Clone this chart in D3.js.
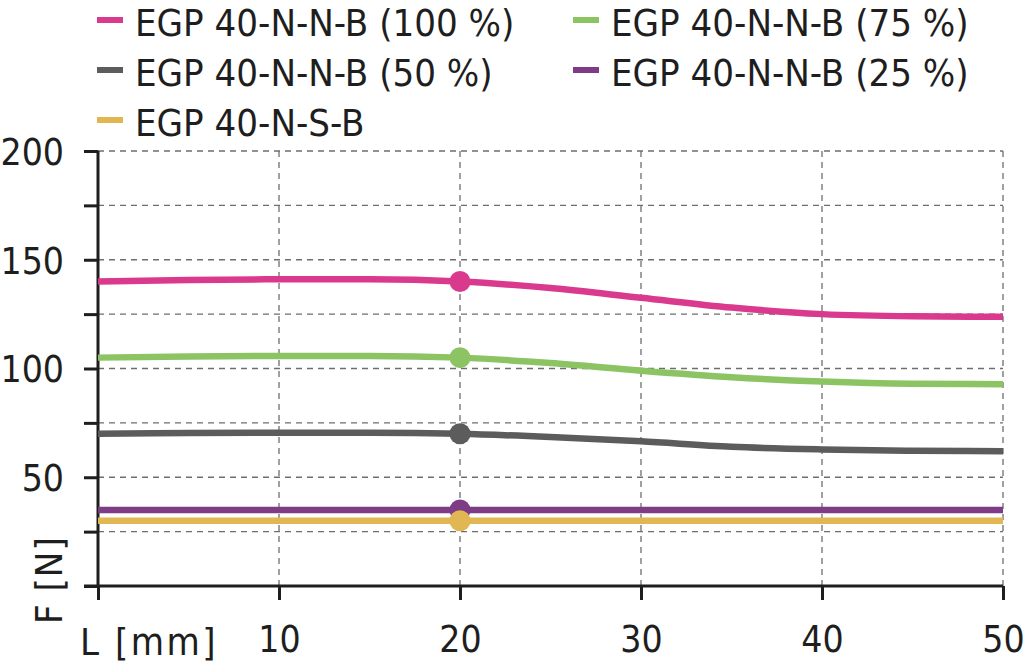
<!DOCTYPE html>
<html>
<head>
<meta charset="utf-8">
<script src="https://cdn.jsdelivr.net/npm/d3@7/dist/d3.min.js"></script>
<style>
  html, body { margin: 0; padding: 0; background: #fff; }
  svg { display: block; }
  text { font-family: "DejaVu Sans Condensed", "DejaVu Sans", sans-serif; fill: #1e1e1e; }
</style>
</head>
<body>
<svg id="chart" width="1024" height="664"></svg>
<script>
// ---- data ----
const xValues = [0, 5, 10, 15, 20, 25, 30, 35, 40, 45, 50];
const seriesNames = [
  "EGP 40-N-N-B (100 %)",
  "EGP 40-N-N-B (75 %)",
  "EGP 40-N-N-B (50 %)",
  "EGP 40-N-N-B (25 %)",
  "EGP 40-N-S-B"
];
const seriesColors = ["#d93a8e", "#8cc463", "#5c5c5c", "#7e3b86", "#e0b752"];
const values100 = [140, 140.7, 141, 141, 140, 137, 132.5, 128, 125, 124, 123.8];
const values75  = [105, 105.5, 105.8, 105.8, 105, 102.5, 99, 96, 94, 93, 92.8];
const values50  = [70, 70.3, 70.5, 70.5, 70, 68.5, 66.5, 64, 62.8, 62.2, 62];
const values25  = [35, 35, 35, 35, 35, 35, 35, 35, 35, 35, 35];
const valuesNSB = [30, 30, 30, 30, 30, 30, 30, 30, 30, 30, 30];
const seriesValues = [values100, values75, values50, values25, valuesNSB];
const markerX = 20;
const xTicks = [0, 10, 20, 30, 40, 50];
const xTickLabels = ["", "10", "20", "30", "40", "50"];
const yTicks = [0, 25, 50, 75, 100, 125, 150, 175, 200];
const yTickLabels = ["", "", "50", "", "100", "", "150", "", "200"];
const xTitle = "L [mm]";
const yTitle = "F [N]";

// ---- layout ----
const svg = d3.select("#chart");
const x = d3.scaleLinear().domain([0, 50]).range([98, 1003]);
const y = d3.scaleLinear().domain([0, 200]).range([586, 151]);

// grid
const grid = svg.append("g");
grid.selectAll("line.h").data(yTicks.filter(d => d > 0)).join("line")
  .attr("x1", x(0)).attr("x2", x(50))
  .attr("y1", d => y(d)).attr("y2", d => y(d))
  .attr("stroke", "#6e6e6e").attr("stroke-width", 1.3).attr("stroke-dasharray", "6,5");
grid.selectAll("line.v").data(xTicks.filter(d => d > 0)).join("line")
  .attr("x1", d => x(d)).attr("x2", d => x(d))
  .attr("y1", y(0)).attr("y2", y(200))
  .attr("stroke", "#6e6e6e").attr("stroke-width", 1.3).attr("stroke-dasharray", "6,5");

// axes
const yAxis = d3.axisLeft(y).tickValues(yTicks).tickSize(14)
  .tickFormat((d, i) => yTickLabels[i]).tickPadding(20);
const gy = svg.append("g").attr("transform", `translate(${x(0)},0)`).call(yAxis);
gy.select(".domain").attr("stroke", "#1e1e1e").attr("stroke-width", 3)
  .attr("d", `M0,${y(200)}V${y(0)}`);
gy.selectAll(".tick line").attr("stroke", "#1e1e1e").attr("stroke-width", 3);
gy.selectAll(".tick text").attr("font-size", 37)
  .attr("font-family", "DejaVu Sans Condensed, DejaVu Sans, sans-serif").attr("fill", "#1e1e1e")
  .attr("dy", "0.36em");

const xAxis = d3.axisBottom(x).tickValues(xTicks).tickSize(14)
  .tickFormat((d, i) => xTickLabels[i]).tickPadding(26);
const gx = svg.append("g").attr("transform", `translate(0,${y(0)})`).call(xAxis);
gx.select(".domain").attr("stroke", "#1e1e1e").attr("stroke-width", 3)
  .attr("d", `M${x(0) - 14},0H${x(50)}`);
gx.selectAll(".tick line").attr("stroke", "#1e1e1e").attr("stroke-width", 3);
gx.selectAll(".tick text").attr("font-size", 37)
  .attr("font-family", "DejaVu Sans Condensed, DejaVu Sans, sans-serif").attr("fill", "#1e1e1e")
  .attr("dy", "0.71em");

// axis titles
svg.append("text").attr("x", 80).attr("y", 655).attr("font-size", 38)
  .attr("letter-spacing", 2.5).text(xTitle);
svg.append("text").attr("transform", "translate(62,624) rotate(-90)")
  .attr("font-size", 38).attr("letter-spacing", 1).text(yTitle);

// lines
const line = d3.line().x((d, i) => x(xValues[i])).y(d => y(d)).curve(d3.curveMonotoneX);
const lines = svg.append("g");
seriesValues.forEach((vals, k) => {
  lines.append("path").datum(vals)
    .attr("d", line).attr("fill", "none")
    .attr("stroke", seriesColors[k]).attr("stroke-width", 6.5);
});
seriesValues.forEach((vals, k) => {
  const idx = xValues.indexOf(markerX);
  lines.append("circle").attr("cx", x(markerX)).attr("cy", y(vals[idx])).attr("r", 10.5)
    .attr("fill", seriesColors[k]);
});

// legend
const legendPos = [[97, 21], [573, 21], [97, 71], [573, 71], [97, 121]];
const order = [0, 1, 2, 3, 4];
const lg = svg.append("g");
order.forEach((k, i) => {
  const [lx, ly] = legendPos[i];
  lg.append("line").attr("x1", lx).attr("x2", lx + 26).attr("y1", ly - 1).attr("y2", ly - 1)
    .attr("stroke", seriesColors[k]).attr("stroke-width", 6);
  lg.append("text").attr("x", lx + 38).attr("y", ly + 15).attr("font-size", 38)
    .text(seriesNames[k]);
});
</script>
</body>
</html>
